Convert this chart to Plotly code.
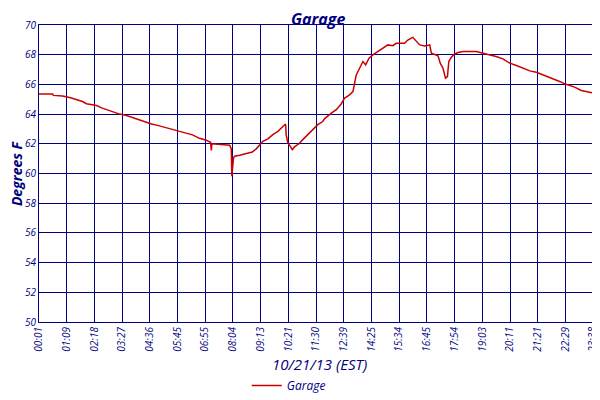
import plotly.graph_objects as go

# sample index (10 samples between labelled ticks) and temperature readings
sample = [0, 4.9, 5.2, 8.5, 11.4, 13.9, 15.7, 17.1, 20.8, 22.6, 24.4, 25.5, 27.3,
          29.1, 31.6, 33.4, 35.2, 37.0, 38.8, 40.6, 42.8, 46.0, 48.9, 50.7, 53.2,
          55.4, 57.9, 60.1, 61.9, 62.2, 62.4, 68.8, 69.4, 69.6, 70.2, 70.6, 72.4,
          74.8, 77.0, 78.4, 79.6, 80.8, 82.6, 84.4, 86.2, 87.4, 89.0, 89.2, 89.8,
          90.7, 91.4, 92.2, 93.8, 95.2, 97.0, 98.8, 100.6, 102.4, 103.1, 105.5,
          107.3, 109.1, 110.3, 112.1, 113.3, 113.9, 114.5, 115.7, 116.9, 117.9,
          119.1, 120.5, 122.3, 124.1, 125.9, 127.7, 128.9, 131.9, 133.1, 134.9,
          136.2, 137.4, 139.2, 141.0, 141.6, 142.8, 144.0, 144.8, 145.8, 146.7,
          147.4, 147.9, 148.8, 150.0, 151.2, 153.0, 157.8, 160.2, 163.2, 165.0,
          167.4, 169.9, 172.3, 174.7, 177.1, 179.5, 181.3, 183.1, 185.5, 187.9,
          189.7, 191.5, 193.3, 195.7, 198.7, 200.5, 202.1]
temp_f = [65.35, 65.35, 65.26, 65.22, 65.1, 64.98, 64.85, 64.7, 64.58, 64.42, 64.3,
          64.2, 64.08, 64.0, 63.9, 63.78, 63.65, 63.52, 63.42, 63.33, 63.24, 63.07,
          62.95, 62.82, 62.68, 62.6, 62.37, 62.26, 62.1, 61.56, 62.0, 61.9, 61.66,
          59.82, 61.05, 61.16, 61.23, 61.32, 61.45, 61.66, 61.95, 62.17, 62.33,
          62.62, 62.84, 63.07, 63.33, 62.62, 62.06, 61.83, 61.6, 61.79, 62.0, 62.28,
          62.62, 62.91, 63.29, 63.5, 63.7, 64.07, 64.3, 64.7, 65.08, 65.3, 65.52,
          66.09, 66.64, 67.09, 67.54, 67.32, 67.76, 67.99, 68.21, 68.43, 68.66,
          68.61, 68.77, 68.77, 68.99, 69.17, 68.88, 68.66, 68.59, 68.66, 68.1,
          67.99, 67.92, 67.43, 67.09, 66.42, 66.53, 67.54, 67.83, 68.05, 68.15,
          68.21, 68.21, 68.1, 67.99, 67.88, 67.72, 67.43, 67.27, 67.09, 66.91,
          66.82, 66.69, 66.58, 66.36, 66.2, 66.04, 65.93, 65.82, 65.59, 65.48,
          65.41, 65.19]

tick_pos = [0, 10, 20, 30, 40, 50, 60, 70, 80, 90, 100, 110, 120, 130, 140, 150,
            160, 170, 180, 190, 200, 202]
tick_text = ["00:01", "01:09", "02:18", "03:27", "04:36", "05:45", "06:55", "08:04",
             "09:13", "10:21", "11:30", "12:39", "14:25", "15:34", "16:45", "17:54",
             "19:03", "20:11", "21:21", "22:29", "23:38", "23:58"]

navy = "#000080"
fnt = "Open Sans"

fig = go.Figure(go.Scatter(
  x=sample, y=temp_f, mode="lines", name="Garage",
  line=dict(color="#cc0000", width=1.5),
))

# page body adds an 8px offset, so the figure is 8px smaller each way
fig.update_layout(
  width=592, height=392,
  margin=dict(l=31, r=1, t=17, b=77),
  paper_bgcolor="white", plot_bgcolor="white",
  title=dict(text="Garage", x=0.524, xanchor="center", y=0.985, yanchor="top",
             font=dict(family=fnt, size=16, color=navy, weight="bold", style="italic")),
  showlegend=True,
  legend=dict(orientation="h", x=0.446, xanchor="center", y=-0.258, yanchor="bottom",
              font=dict(family=fnt, size=12, color=navy, style="italic")),
  xaxis=dict(
    range=[0, 202.1], tickmode="array", tickvals=tick_pos, ticktext=tick_text,
    tickangle=-90, showgrid=True, gridcolor=navy, gridwidth=1.2, automargin=False,
    showline=True, linecolor=navy, linewidth=1.2, mirror=True, zeroline=False,
    tickfont=dict(family=fnt, size=10, color=navy, style="italic"),
  ),
  yaxis=dict(
    range=[50, 70], dtick=2, showgrid=True, gridcolor=navy, gridwidth=1.2,
    automargin=False,
    showline=True, linecolor=navy, linewidth=1.2, mirror=True, zeroline=False,
    tickfont=dict(family=fnt, size=10, color=navy, style="italic"),
  ),
  annotations=[
    dict(text="10/21/13 (EST)", xref="paper", yref="paper", x=0.5,
         y=-0.141, xanchor="center", yanchor="middle", showarrow=False,
         font=dict(family=fnt, size=15, color=navy, style="italic")),
    dict(text="Degrees F", xref="paper", yref="paper", x=-0.04, y=0.5,
         xanchor="center", yanchor="middle", textangle=-90, showarrow=False,
         font=dict(family=fnt, size=14, color=navy, weight="bold", style="italic")),
  ],
)

fig.write_html("out.html")
